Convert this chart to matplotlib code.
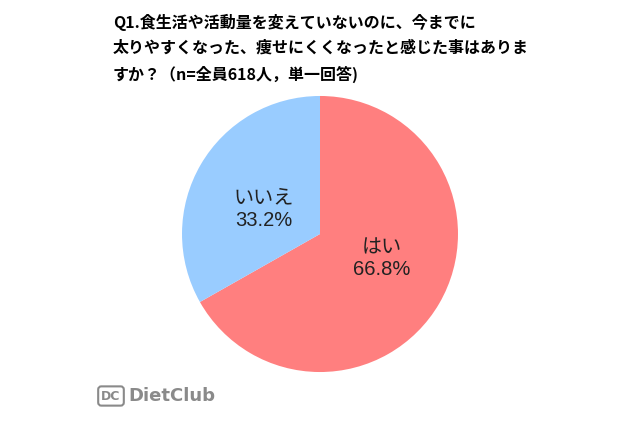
import matplotlib
matplotlib.use("Agg")
import matplotlib.pyplot as plt

plt.rcParams['font.family'] = ['Noto Sans CJK JP', 'DejaVu Sans']

labels = ['はい', 'いいえ']
values = [66.8, 33.2]
colors = ['#FF7F7F', '#99CCFF']
title_lines = ['Q1.食生活や活動量を変えていないのに、今までに',
               '太りやすくなった、痩せにくくなったと感じた事はありま',
               'すか？（n=全員618人，単一回答)']

fig = plt.figure(figsize=(6.4, 4.26), dpi=100)
fig.patch.set_facecolor('white')

ax = fig.add_axes([0.5 - 0.2156, 0.4507 - 0.324, 0.4312, 0.648])
wedges, texts = ax.pie(values, colors=colors, startangle=90, counterclock=False,
                       radius=1.0, labels=[f'{l}\n{v:.1f}%' for l, v in zip(labels, values)],
                       labeldistance=0.47,
                       wedgeprops=dict(linewidth=0))
label_pos = [(0.45, -0.18), (-0.41, 0.18)]
for t, p in zip(texts, label_pos):
    t.set_position(p)
    t.set_ha('center')
    t.set_va('center')
    t.set_fontsize(14.5)
    t.set_family(['Liberation Sans', 'Noto Sans CJK JP'])
    t.set_color('#222222')
    t.set_linespacing(1.2)
ax.set_xlim(-1, 1)
ax.set_ylim(-1, 1)
ax.set_aspect('auto')

for i, line in enumerate(title_lines):
    fig.text(113 / 640, 1 - (22 + 26 * i) / 426, line, fontsize=11.5,
             fontweight='bold', ha='left', va='center', color='black')

fig.text(128 / 640, 1 - 396 / 426, 'DietClub', fontsize=13, fontweight='bold',
         color='#8a8a8a', ha='left', va='center', family=['DejaVu Sans'])
fig.text(111 / 640, 1 - 396 / 426, 'DC', fontsize=9, fontweight='bold',
         color='#8a8a8a', ha='center', va='center', family=['DejaVu Sans'],
         bbox=dict(boxstyle='round,pad=0.25', fc='white', ec='#8a8a8a', lw=1.5))

fig.savefig('out.png', dpi=100, facecolor='white')
